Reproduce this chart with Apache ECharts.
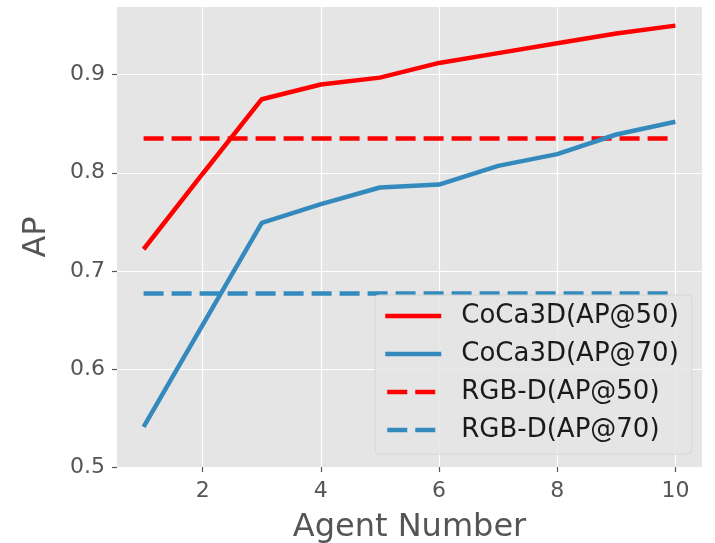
<!DOCTYPE html>
<html><head><meta charset="utf-8">
<script src="https://cdn.jsdelivr.net/npm/echarts@6/dist/echarts.min.js"></script>
<style>html,body{margin:0;padding:0;background:#fff}#c{width:715px;height:543px}</style>
</head><body><div id="c"></div>
<script>
const agents = [1, 2, 3, 4, 5, 6, 7, 8, 9, 10];
const coca50 = [0.722, 0.799, 0.875, 0.890, 0.897, 0.912, 0.922, 0.932, 0.942, 0.950];
const coca70 = [0.541, 0.645, 0.749, 0.768, 0.785, 0.788, 0.807, 0.819, 0.839, 0.852];
const rgbd50 = 0.835;
const rgbd70 = 0.677;
const xTicks = [2, 4, 6, 8, 10];
const yTicks = [0.5, 0.6, 0.7, 0.8, 0.9];
const names = ['CoCa3D(AP@50)', 'CoCa3D(AP@70)', 'RGB-D(AP@50)', 'RGB-D(AP@70)'];

const RED = '#FF0000', BLUE = '#348ABD';
const font = 'DejaVu Sans';
const LW = 4.5;
const DASH = [20, 8];
const pts = arr => agents.map((a, i) => [a, arr[i]]);
const flat = v => agents.map(a => [a, v]);

const chart = echarts.init(document.getElementById('c'), null, {renderer: 'canvas'});
chart.setOption({
  animation: false,
  backgroundColor: '#fff',
  grid: {left: 117, right: 13, top: 7, bottom: 76, show: true, backgroundColor: '#E5E5E5', borderWidth: 0, outerBoundsMode: 'none', containLabel: false},
  xAxis: {
    type: 'value', min: 0.55, max: 10.45,
    name: 'Agent Number', nameLocation: 'middle', nameGap: 45,
    nameTextStyle: {fontFamily: font, fontSize: 32, color: '#555555'},
    axisLine: {show: false},
    axisTick: {show: true, length: 5, lineStyle: {color: '#555555', width: 1.2}, customValues: xTicks},
    axisLabel: {fontFamily: font, fontSize: 22, color: '#555555', margin: 13, customValues: xTicks},
    splitLine: {show: true, lineStyle: {color: '#FFFFFF', width: 1.2}}
  },
  yAxis: {
    type: 'value', min: 0.5, max: 0.969,
    name: 'AP', nameLocation: 'middle', nameGap: 64, nameRotate: 90,
    nameTextStyle: {fontFamily: font, fontSize: 32, color: '#555555'},
    axisLine: {show: false},
    axisTick: {show: true, length: 5, lineStyle: {color: '#555555', width: 1.2}, customValues: yTicks},
    axisLabel: {fontFamily: font, fontSize: 22, color: '#555555', margin: 12, customValues: yTicks, formatter: v => v.toFixed(1)},
    splitLine: {show: true, lineStyle: {color: '#FFFFFF', width: 1.2}}
  },
  legend: {
    data: names,
    orient: 'vertical', left: 375, top: 295,
    itemWidth: 56, itemHeight: 14, itemGap: 12,
    padding: [8, 13, 11, 8],
    backgroundColor: 'rgba(229,229,229,0.85)',
    borderColor: '#D6D6D6', borderWidth: 1, borderRadius: 4,
    itemStyle: {opacity: 0},
    lineStyle: {width: LW, dashOffset: 26},
    textStyle: {fontFamily: font, fontSize: 26, color: '#1A1A1A', padding: [0, 0, 0, 15]}
  },
  series: [
    {name: names[0], type: 'line', data: pts(coca50), showSymbol: false, symbol: 'none', lineStyle: {color: RED, width: LW}, itemStyle: {color: RED}, z: 4},
    {name: names[1], type: 'line', data: pts(coca70), showSymbol: false, symbol: 'none', lineStyle: {color: BLUE, width: LW}, itemStyle: {color: BLUE}, z: 4},
    {name: names[2], type: 'line', data: flat(rgbd50), showSymbol: false, symbol: 'none', lineStyle: {color: RED, width: LW, type: DASH}, itemStyle: {color: RED}, z: 3},
    {name: names[3], type: 'line', data: flat(rgbd70), showSymbol: false, symbol: 'none', lineStyle: {color: BLUE, width: LW, type: DASH}, itemStyle: {color: BLUE}, z: 3}
  ]
});
</script></body></html>
